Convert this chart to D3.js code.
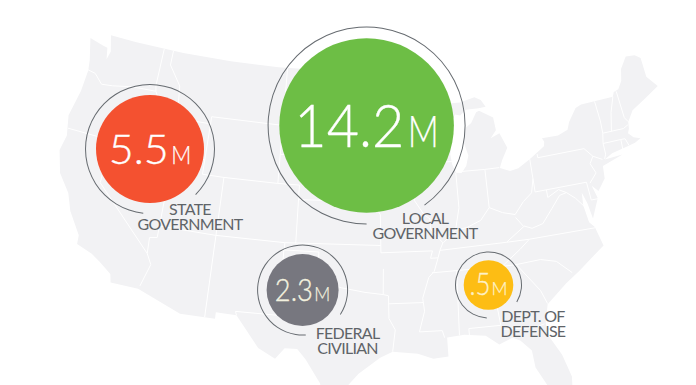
<!DOCTYPE html>
<html>
<head>
<meta charset="utf-8">
<script src="https://cdn.jsdelivr.net/npm/d3@7"></script>
<style>
  html, body { margin: 0; padding: 0; background: #fff; }
  svg { display: block; }
  text { font-family: Lato, "Open Sans", sans-serif; }
</style>
</head>
<body>
<div id="grafico"></div>
<script>
const width  = 696;
const height = 385;

// chart values, millions of jobs
const categories = ["State", "Local", "Federal", "Defense"];
const values     = [5.5, 14.2, 2.3, 0.5];
const valueTexts = ["5.5", "14.2", "2.3", ".5"];
const unitText   = "M";
const labelLines = [
    ["STATE", "GOVERNMENT"],
    ["LOCAL", "GOVERNMENT"],
    ["FEDERAL", "CIVILIAN"],
    ["DEPT. OF", "DEFENSE"]
];

// lon/lat outline of the lower 48, clockwise
const outline = [
    [-124.7,48.4],[-123.2,48.15],[-122.75,48.1],[-122.5,47.3],[-122.3,47.9],[-122.75,49],
    [-120,49],[-115,49],[-110,49],[-105,49],[-100,49],[-97.2,49],[-95.15,49],[-95.15,49.38],[-94.6,48.7],
    [-93,48.6],[-91.5,48.1],[-90,48.1],[-89.6,48],[-92.1,46.75],[-90.8,46.9],[-90.4,46.55],[-89,46.9],
    [-88.4,47.4],[-87.9,47.47],[-88.4,46.8],[-87.4,46.5],[-86.5,46.5],[-85,46.75],[-84.4,46.5],[-84,46],
    [-84.7,45.95],[-86,45.95],[-86.6,45.6],[-87.1,45.7],[-87.6,45.1],[-88,44.55],[-87.3,45.2],[-87.5,44.3],
    [-87.9,43],[-87.8,42.3],[-87.5,41.7],[-87,41.65],[-86.5,42.1],[-86.2,42.8],[-86.5,43.7],[-86.2,44.7],
    [-85.6,45],[-85,45.7],[-84.7,45.78],[-83.4,45.2],[-83.3,44.3],[-83.9,43.8],[-83,44.07],[-82.45,43],
    [-83.1,42.2],[-83.4,41.7],[-82.5,41.4],[-81.7,41.5],[-80.5,42],[-79,42.7],[-78.9,43],[-79.05,43.27],
    [-77.5,43.25],[-76.5,43.5],[-76.2,44],[-75.3,44.85],[-74.7,45],[-71.5,45],[-71.3,45.3],[-70.8,45.4],
    [-70.3,45.9],[-70,46.7],[-69.2,47.45],[-68.3,47.35],[-67.8,47.05],[-67.8,45.7],[-67,44.85],[-68.5,44.3],
    [-70,43.75],[-70.7,43.05],[-70.8,42.6],[-71,42.3],[-70.6,41.95],[-70,41.75],[-70.6,41.55],[-71.4,41.45],
    [-72.9,41.25],[-73.7,40.95],[-72,41],[-74,40.55],[-74.1,39.7],[-74.9,38.95],[-75.4,39.4],[-75.1,38.5],
    [-75.9,37.2],[-76.1,38.3],[-76.4,39.1],[-76.5,38.2],[-76.3,37],[-75.9,36.6],[-75.5,35.25],[-76.6,34.65],
    [-77.9,33.9],[-79.2,33.2],[-81,32],[-81.4,30.7],[-81.3,29.8],[-80.5,28.4],[-80.03,26.8],[-80.2,25.5],
    [-81.1,25.15],[-81.8,26.1],[-82.7,27.8],[-82.8,29],[-83.6,29.8],[-84.2,30.05],[-85.3,29.7],[-86.3,30.4],
    [-88,30.6],[-89.4,30.5],[-89.4,29.2],[-90.6,29.1],[-91.8,29.5],[-93.8,29.7],[-94.8,29.3],[-96.5,28.2],
    [-97.4,27.3],[-97.2,25.95],[-99.1,26.4],[-99.5,27.5],[-100.7,29.1],[-101.4,29.77],[-102.4,29.77],
    [-103.1,29],[-104.5,29.65],[-106.5,31.75],[-108.2,31.78],[-108.2,31.33],[-111.07,31.33],[-114.8,32.5],
    [-117.12,32.53],[-117.3,33.1],[-118.4,33.75],[-119.2,34.15],[-120.6,34.55],[-120.65,35.15],[-121.9,36.6],
    [-122.5,37.75],[-123.7,38.9],[-124.35,40.4],[-124.1,41.5],[-124.5,42.85],[-124.05,44.7],[-123.95,46.2],
    [-124.1,46.9],[-124.7,48.4]
];

// lon/lat state borders
const borders = [
    [[-124,46.25],[-123.2,46.15],[-122.3,45.55],[-121.2,45.65],[-119.3,45.93],[-116.92,46]],
    [[-117.03,49],[-117.04,46.4],[-116.92,46],[-116.5,45.5],[-116.9,44.2],[-117.03,43.8],[-117.03,42]],
    [[-116.05,49],[-116.05,48],[-114.7,46.7],[-114.5,45.55],[-113.5,45.1],[-113,44.5],[-111.05,44.5]],
    [[-124.2,42],[-120,42],[-114.05,42],[-111.05,42]],
    [[-120,42],[-120,39],[-114.63,35],[-114.15,34.3],[-114.7,32.72]],
    [[-114.05,42],[-114.05,36.2],[-114.7,36.1],[-114.63,35]],
    [[-114.05,37],[-109.05,37],[-103,37],[-94.62,37]],
    [[-109.05,41],[-109.05,37],[-109.05,31.33]],
    [[-111.05,45],[-111.05,41],[-109.05,41],[-104.05,41],[-102.05,41],[-102.05,37]],
    [[-111.05,45],[-104.05,45]],
    [[-104.05,49],[-104.05,45],[-104.05,41]],
    [[-102.05,40],[-95.3,40]],
    [[-104.05,43],[-98.5,43],[-96.45,42.5]],
    [[-104.05,45.94],[-96.56,45.94]],
    [[-97.2,49],[-96.56,45.94],[-96.45,43.5],[-96.45,42.5],[-95.9,41.2],[-95.3,40],[-94.62,39.1],[-94.62,36.5]],
    [[-96.45,43.5],[-91.22,43.5]],
    [[-95.77,40.58],[-91.73,40.6],[-91.4,40.4]],
    [[-92.1,46.75],[-92.3,46.1],[-92.8,45.6],[-92.75,44.75],[-91.22,43.5]],
    [[-91.22,43.5],[-91.1,42.7],[-90.2,41.8],[-91.1,41.2],[-91.4,40.4],[-91.5,40],[-90.7,39],[-90.2,38.7],[-90.2,38],
     [-89.2,37],[-89.5,36.5],[-89.7,36],[-90.1,35.1],[-90.6,34.7],[-91.2,33.3],[-91.1,32.4],[-91.6,31]],
    [[-90.64,42.5],[-87.8,42.5]],
    [[-90.4,46.55],[-88.1,45.9],[-87.6,45.1]],
    [[-87.53,41.7],[-87.53,39.3],[-88,37.8]],
    [[-84.8,41.7],[-84.82,39.1]],
    [[-87,41.76],[-84.8,41.73],[-83.45,41.73]],
    [[-89.15,37],[-88,37.8],[-87,37.9],[-85.7,38.3],[-84.82,39.1],[-83.7,38.65],[-82.6,38.4],[-81.7,39.2],[-80.85,39.7],[-80.52,40.64]],
    [[-80.52,42],[-80.52,39.72],[-75.79,39.72]],
    [[-79.76,42.27],[-79.76,42],[-75.35,42],[-74.7,41.36],[-75.1,40.9],[-74.75,40.2],[-75.5,39.6]],
    [[-74.7,41.36],[-73.9,41]],
    [[-75.79,39.72],[-75.7,38.46],[-75.05,38.45]],
    [[-73.35,45],[-73.25,43.6],[-73.3,42.75],[-73.5,42.05],[-73.5,41.3],[-73.7,41]],
    [[-71.5,45],[-72.05,44],[-72.46,42.73]],
    [[-73.27,42.74],[-71.3,42.7],[-70.8,42.87]],
    [[-73.5,42.05],[-71.8,42.02],[-71.4,42],[-71.2,41.5]],
    [[-71.8,42.02],[-71.85,41.32]],
    [[-71.05,45.3],[-70.95,43.4],[-70.7,43.08]],
    [[-89.5,36.5],[-83.68,36.6],[-81.68,36.59],[-75.9,36.55]],
    [[-83.68,36.6],[-82,37.5],[-82.6,38.2]],
    [[-81.97,37.54],[-81.3,37.3],[-80.3,37.5],[-79.3,38.4],[-78.4,39.2],[-77.75,39.3]],
    [[-79.48,39.72],[-79.48,39.2],[-78.4,39.6],[-77.75,39.3],[-77.05,38.8],[-76.3,38]],
    [[-81.68,36.59],[-82.6,36],[-84.32,35]],
    [[-90.3,35],[-84.32,35],[-83.1,35]],
    [[-83.1,35],[-81,35.1],[-79.7,34.8],[-78.55,33.85]],
    [[-83.1,35],[-81.4,33],[-81,32.05]],
    [[-85.6,35],[-85.15,32.5],[-85,31]],
    [[-87.6,30.3],[-87.6,31],[-85,31],[-84.85,30.7],[-82.2,30.55],[-81.5,30.7]],
    [[-88.2,35],[-88.4,30.6]],
    [[-91.6,31],[-89.75,31],[-89.6,30.5]],
    [[-94.04,33],[-91.17,33]],
    [[-94.62,36.5],[-90.15,36.5],[-90.35,36],[-89.7,36]],
    [[-94.43,35.4],[-94.48,33.64]],
    [[-103,37],[-103,36.5],[-100,36.5],[-100,34.56],[-98,34.1],[-96,33.8],[-94.48,33.64],[-94.04,33.55],[-94.04,31.99],[-93.55,31.2],[-93.8,29.7]],
    [[-103.04,36.5],[-103.06,32],[-106.62,32],[-106.5,31.75]]
];

const svg = d3.select("#grafico")
              .append("svg")
              .attr("width", width)
              .attr("height", height);

const projection = d3.geoConicEqualArea()
                     .parallels([29.5, 45.5])
                     .rotate([96, 0])
                     .center([0, 38])
                     .scale(830)
                     .translate([365, 231]);

const geoPath = d3.geoPath(projection);

const map = svg.append("g")
               .style("filter", "blur(0.5px)");

map.append("path")
   .datum({ type: "Polygon", coordinates: [outline] })
   .attr("d", geoPath)
   .attr("fill", "#f2f2f4");

map.append("path")
   .datum({ type: "MultiLineString", coordinates: borders })
   .attr("d", geoPath)
   .attr("fill", "none")
   .attr("stroke", "#fff")
   .attr("stroke-width", 1);

// bubble placement and styling per category
const xScale     = d3.scaleOrdinal().domain(categories).range([150, 366.6, 302.6, 488.5]);
const yScale     = d3.scaleOrdinal().domain(categories).range([149, 125.5, 290, 285]);
const colorScale = d3.scaleOrdinal().domain(categories).range(["#f45130", "#6dbe45", "#77777f", "#fdbd14"]);
const textColor  = d3.scaleOrdinal().domain(categories).range(["#fff", "#fff", "#f3f1df", "#fdf1c8"]);
const labelX     = d3.scaleOrdinal().domain(categories).range([190, 425, 347.6, 533]);
const labelY     = d3.scaleOrdinal().domain(categories).range([215, 224, 339, 321.7]);
const baseline   = d3.scaleOrdinal().domain(categories).range([164, 147, 300.7, 295]);
const gapStart   = d3.scaleOrdinal().domain(categories).range([135, 144, 123, 121]);
const gapEnd     = d3.scaleOrdinal().domain(categories).range([186, 180, 176, 183]);

const ascending = d3.sort(values);
const radius    = d3.scaleSqrt().domain(ascending).range([24.8, 36, 54, 87.3]);
const ringR     = d3.scaleSqrt().domain(ascending).range([33, 45, 64.5, 98.5]);
const bigFont   = d3.scaleLinear().domain(ascending).range([32, 31, 41, 60]);
const unitFont  = d3.scaleLinear().domain(ascending).range([18, 19, 25, 43]);
const bigWidth  = d3.scaleLinear().domain(ascending).range([21, 38, 60, 110]);
const unitWidth = d3.scaleLinear().domain(ascending).range([16, 16, 20, 31]);
const unitGap   = d3.scaleLinear().domain(ascending).range([1, 1.5, 2.5, 3.5]);

const ringArc = d3.arc();
const rad = d => d * Math.PI / 180;

const bubbles = svg.append("g")
                   .selectAll("g")
                   .data(categories.map((c, i) => ({ c, v: values[i], t: valueTexts[i], lines: labelLines[i] })))
                   .join("g");

bubbles.append("path")
       .attr("transform", d => `translate(${xScale(d.c)}, ${yScale(d.c)})`)
       .attr("fill", "#666b70")
       .attr("d", d => ringArc({
           innerRadius: ringR(d.v) - 0.5,
           outerRadius: ringR(d.v) + 0.5,
           startAngle: rad(gapEnd(d.c)),
           endAngle: rad(gapStart(d.c) + 360)
       }));

bubbles.append("circle")
       .attr("cx", d => xScale(d.c))
       .attr("cy", d => yScale(d.c))
       .attr("r", d => radius(d.v))
       .attr("fill", d => colorScale(d.c));

const totalWidth = d => bigWidth(d.v) + unitGap(d.v) + unitWidth(d.v);

const valueLabel = bubbles.append("text")
                          .attr("x", d => xScale(d.c) - totalWidth(d) / 2)
                          .attr("y", d => baseline(d.c))
                          .attr("font-weight", 300)
                          .attr("fill", d => textColor(d.c))
                          .attr("stroke", d => textColor(d.c));

valueLabel.append("tspan")
          .attr("font-size", d => bigFont(d.v))
          .attr("stroke-width", 0.35)
          .attr("textLength", d => bigWidth(d.v))
          .attr("lengthAdjust", "spacingAndGlyphs")
          .text(d => d.t);

valueLabel.append("tspan")
          .attr("font-size", d => unitFont(d.v))
          .attr("stroke-width", 0.25)
          .attr("dx", d => unitGap(d.v))
          .attr("textLength", d => unitWidth(d.v))
          .attr("lengthAdjust", "spacingAndGlyphs")
          .text(unitText);

const label = bubbles.append("text")
                     .attr("text-anchor", "middle")
                     .attr("font-size", 16)
                     .attr("letter-spacing", -0.72)
                     .attr("fill", "#5f6468");

label.selectAll("tspan")
     .data(d => d.lines.map(l => ({ l, c: d.c })))
     .join("tspan")
     .attr("x", d => labelX(d.c))
     .attr("y", (d, i) => labelY(d.c) + i * 15)
     .text(d => d.l);
</script>
</body>
</html>
